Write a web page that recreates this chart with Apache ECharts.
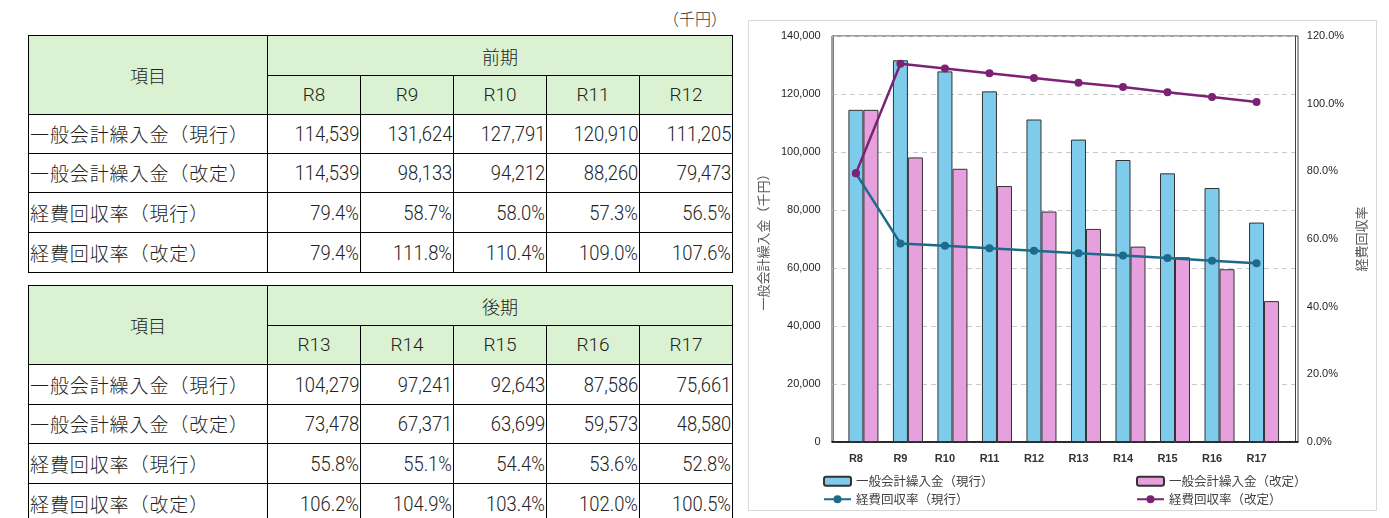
<!DOCTYPE html>
<html>
<head>
<meta charset="utf-8">
<script src="https://cdn.jsdelivr.net/npm/echarts@6/dist/echarts.min.js"></script>
<style>
html,body{margin:0;padding:0;background:#fff;width:1389px;height:518px;overflow:hidden;position:relative;font-family:"Noto Sans CJK JP",sans-serif;}
.unit{position:absolute;left:663px;top:7px;font-size:16px;color:#333;line-height:22px;font-weight:300;}
table{position:absolute;left:28px;border-collapse:collapse;table-layout:fixed;width:704px;}
td,th{border:1px solid #000;padding:0;color:#222;font-weight:300 !important;overflow:hidden;white-space:nowrap;line-height:20px;}
th{background:#dbf2d2;font-size:18px;text-align:center;}
th.cat{font-family:Roboto,"Noto Sans CJK JP",sans-serif;font-size:19px;}
td.lab{text-align:left;padding-left:1px;font-size:19px;letter-spacing:0.9px;}
td.num{text-align:right;padding-right:1px;font-family:Roboto,sans-serif;font-size:20px;}
td.num span{display:inline-block;transform:scaleX(0.92);transform-origin:right center;}
#chart{position:absolute;left:748px;top:20px;width:627px;height:489px;border:1px solid #d9d9d9;}
</style>
</head>
<body>
<div class="unit">（千円）</div>
<div id="tables"></div>
<div id="chart"></div>
<script>
// ---- data ----
const categories = ['R8','R9','R10','R11','R12','R13','R14','R15','R16','R17'];
const periodNames = ['前期','後期'];
const rowLabels = ['一般会計繰入金（現行）','一般会計繰入金（改定）','経費回収率（現行）','経費回収率（改定）'];
const transferCurrent = [114539,131624,127791,120910,111205,104279,97241,92643,87586,75661];
const transferRevised = [114539,98133,94212,88260,79473,73478,67371,63699,59573,48580];
const rateCurrent = [79.4,58.7,58.0,57.3,56.5,55.8,55.1,54.4,53.6,52.8];
const rateRevised = [79.4,111.8,110.4,109.0,107.6,106.2,104.9,103.4,102.0,100.5];
const leftTicks = [0,20000,40000,60000,80000,100000,120000,140000];
const rightTicks = [0,20,40,60,80,100,120];

// ---- tables ----
function fmtNum(v){return v.toLocaleString('en-US');}
function fmtPct(v){return v.toFixed(1)+'%';}
function buildTable(top, period, start, heights){
  const t = document.createElement('table');
  t.style.top = top + 'px';
  let h = '<colgroup><col style="width:239px">' + '<col style="width:93px">'.repeat(5) + '</colgroup>';
  h += '<tr style="height:'+heights[0]+'px"><th rowspan="2">項目</th><th colspan="5">'+period+'</th></tr>';
  h += '<tr style="height:'+heights[1]+'px">';
  for(let i=start;i<start+5;i++) h += '<th class="cat">'+categories[i]+'</th>';
  h += '</tr>';
  const rows = [[transferCurrent,fmtNum],[transferRevised,fmtNum],[rateCurrent,fmtPct],[rateRevised,fmtPct]];
  rows.forEach((r,ri)=>{
    h += '<tr style="height:'+heights[2+ri]+'px"><td class="lab">'+rowLabels[ri]+'</td>';
    for(let i=start;i<start+5;i++) h += '<td class="num"><span>'+r[1](r[0][i])+'</span></td>';
    h += '</tr>';
  });
  t.innerHTML = h;
  document.getElementById('tables').appendChild(t);
}
buildTable(35, periodNames[0], 0, [40,39,39,39,40,40]);
buildTable(285, periodNames[1], 5, [40,39,40,39,40,40]);

// ---- chart ----
const chart = echarts.init(document.getElementById('chart'));
const blue = '#7ecbeb', pink = '#e5a0dd', teal = '#1d6a8a', purple = '#7b2274';
const font = '"Liberation Sans", Arial, sans-serif';
const jp = '"Noto Sans CJK JP",sans-serif';
function legend(name, left, top, kind){
  return {data:[name], left:left, top:top, itemWidth:27, itemHeight:kind==='bar'?9:10, itemGap:0,
    textStyle:{fontSize:12.5, color:'#404040', fontFamily:jp}, selectedMode:false};
}
chart.setOption({
  animation:false,
  grid:[
    {left:83, top:15, width:450, height:406, containLabel:false},
    {left:83, top:15, width:466, height:406, show:true, borderColor:'#404040', borderWidth:1, containLabel:false}
  ],
  legend:[
    legend('一般会計繰入金（現行）', 69, 449, 'bar'),
    legend('一般会計繰入金（改定）', 382, 449, 'bar'),
    legend('経費回収率（現行）', 69, 467, 'line'),
    legend('経費回収率（改定）', 382, 467, 'line')
  ],
  xAxis:[
    {gridIndex:0, type:'category', data:categories,
      axisLine:{show:false}, axisTick:{show:false},
      axisLabel:{fontSize:11, color:'#333', fontWeight:'bold', margin:11, fontFamily:font}},
    {gridIndex:1, type:'value', min:0, max:1, axisLine:{show:true, lineStyle:{color:'#000', width:1.5}},
      axisTick:{show:false}, axisLabel:{show:false}, splitLine:{show:false}}
  ],
  yAxis:[
    {gridIndex:0, type:'value', min:leftTicks[0], max:leftTicks[leftTicks.length-1], interval:leftTicks[1]-leftTicks[0],
      name:'一般会計繰入金（千円）', nameLocation:'middle', nameGap:57, nameRotate:90,
      nameTextStyle:{fontSize:13, color:'#595959', fontFamily:jp},
      axisLine:{show:true, lineStyle:{color:'#7f7f7f'}}, axisTick:{show:false},
      axisLabel:{fontSize:11, color:'#262626', margin:13, fontFamily:font, formatter:v=>v.toLocaleString('en-US')},
      splitLine:{show:false}},
    {gridIndex:0, type:'value', position:'right', offset:16, min:rightTicks[0], max:rightTicks[rightTicks.length-1], interval:rightTicks[1]-rightTicks[0],
      name:'経費回収率', nameLocation:'middle', nameGap:58, nameRotate:90,
      nameTextStyle:{fontSize:13, color:'#595959', fontFamily:jp},
      axisLine:{show:true, lineStyle:{color:'#404040'}}, axisTick:{show:false},
      axisLabel:{fontSize:11, color:'#262626', margin:12, fontFamily:font, formatter:v=>v.toFixed(1)+'%'},
      splitLine:{show:false}},
    {gridIndex:1, type:'value', min:leftTicks[0], max:leftTicks[leftTicks.length-1], interval:leftTicks[1]-leftTicks[0],
      axisLine:{show:false}, axisTick:{show:false}, axisLabel:{show:false},
      splitLine:{show:true, lineStyle:{color:'#c8c8c8', type:[5,4]}}}
  ],
  series:[
    {name:'_pad', type:'bar', data:[], barWidth:15, barGap:'0%', silent:true, itemStyle:{opacity:0}},
    {name:'一般会計繰入金（現行）', type:'bar', data:transferCurrent, barWidth:15, barGap:'0%',
      itemStyle:{color:blue, borderColor:'#333', borderWidth:1}},
    {name:'一般会計繰入金（改定）', type:'bar', data:transferRevised, barWidth:15, barGap:'0%',
      itemStyle:{color:pink, borderColor:'#333', borderWidth:1}},
    {name:'経費回収率（現行）', type:'line', yAxisIndex:1, data:rateCurrent, symbol:'circle', symbolSize:8,
      lineStyle:{color:teal, width:2.5}, itemStyle:{color:teal}, z:5},
    {name:'経費回収率（改定）', type:'line', yAxisIndex:1, data:rateRevised, symbol:'circle', symbolSize:8,
      lineStyle:{color:purple, width:2.5}, itemStyle:{color:purple}, z:5}
  ]
});
</script>
</body>
</html>
